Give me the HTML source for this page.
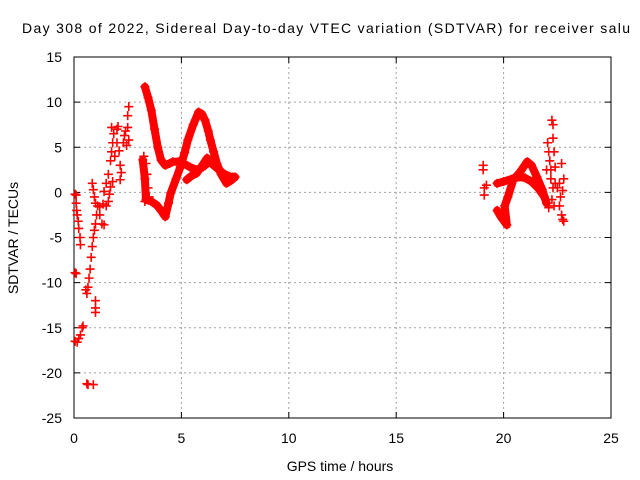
<!DOCTYPE html>
<html><head><meta charset="utf-8"><style>
body{margin:0;background:#fff}
svg{display:block;font-family:"Liberation Sans",Arial,sans-serif}
</style></head><body>
<svg id="chart" width="640" height="480">
<rect width="640" height="480" fill="#fff"/>
<g id="grid"></g><g id="axes"></g><g id="data"></g>
<text x="326" y="33" font-size="14" text-anchor="middle" textLength="608">Day 308 of 2022, Sidereal Day-to-day VTEC variation (SDTVAR) for receiver salu</text>
<text x="340" y="471" font-size="14" text-anchor="middle">GPS time / hours</text>
<text x="18" y="238" font-size="14" text-anchor="middle" transform="rotate(-90 18 238)">SDTVAR / TECUs</text>
</svg>
<script>
const xTicks=[0,5,10,15,20,25];
const yTicks=[15,10,5,0,-5,-10,-15,-20,-25];
// continuous tracks: [time, value]
const trackA=[[3.3,11.7],[3.45,10.5],[3.6,9.1],[3.75,7],[3.9,5],[4.05,3.6],[4.25,3],[4.45,3.2],[4.6,3.4],[4.85,3.4],[5.1,3.2],[5.4,2.8],[5.7,2.5],[6.0,2.8],[6.3,3.4],[6.6,2.8],[6.95,2.1],[7.2,1.8],[7.4,1.7]];
const trackB=[[3.2,3.6],[3.3,1.5],[3.35,-0.8],[3.6,-1.0],[3.85,-1.4],[4.05,-2.0],[4.25,-2.7],[4.4,-1.2],[4.5,-0.1],[4.75,1.5],[4.95,2.8],[5.15,4.4],[5.3,5.8],[5.55,7.5],[5.8,8.9],[5.95,8.7],[6.1,8.0],[6.25,6.8],[6.35,5.8],[6.5,4.5],[6.65,3.2],[6.85,2.0],[7.1,1.0],[7.3,1.3],[7.5,1.7]];
const trackC=[[5.25,1.4],[5.45,1.8],[5.7,2.1],[5.95,2.9],[6.2,3.8],[6.4,3.4]];
const trackD=[[19.7,-2.0],[19.9,-2.8],[20.15,-3.6],[20.05,-1.5],[20.2,-0.5],[20.45,1.4],[20.75,2.2],[21.1,3.4],[21.3,3.0],[21.55,1.7],[21.8,0.3],[22.0,-1.2]];
const trackE=[[19.7,1.0],[20.0,1.2],[20.4,1.5],[20.75,1.7],[21.0,1.6],[21.3,1.2],[21.6,0.5],[21.9,-0.5]];
// scattered points: [time, value]
const scatter=[[0.05,-0.2],[0.1,-0.3],[0.1,-1.2],[0.12,-2],[0.15,-2.5],[0.2,-3.2],[0.22,-4],[0.28,-5],[0.3,-5.8],[0.05,-8.9],[0.1,-9],
[0.05,-16.5],[0.15,-16.6],[0.22,-16.2],[0.3,-15.8],[0.38,-15],[0.42,-14.8],[0.6,-21.2],[0.65,-21.3],[0.9,-21.3],
[0.55,-10.8],[0.6,-11.2],[0.65,-10.5],[0.7,-9.5],[0.75,-8.5],[0.8,-7.2],[0.85,-6],[0.9,-5],[0.95,-4.2],[1.0,-3.5],[1.05,-2.5],
[1.0,-12],[1.0,-12.8],[1.0,-13.3],[0.85,1],[0.9,0.3],[0.95,-0.5],[1.0,-1.2],[1.1,-1.5],[1.2,-1.6],[1.35,-1.3],[1.5,-1.5],[1.6,-1],[1.2,-2.5],[1.3,-3.5],[1.4,-3.6],
[1.4,0.1],[1.5,1],[1.6,2],[1.7,3.5],[1.75,4.5],[1.8,5.5],[1.75,7.2],[1.85,6.5],[1.9,4.0],[1.7,0.6],[1.8,1.2],[1.65,-0.2],
[2.0,7.0],[2.05,7.3],[2.0,5.5],[2.1,4.6],[2.15,3.0],[2.15,1.4],[2.2,2.2],[2.3,5.5],[2.35,6.3],[2.45,5.2],[2.55,9.5],[2.5,8.5],[2.55,5.8],[2.5,7.2],[2.4,6.8],
[3.25,4.0],[3.35,3.2],[3.4,2.0],[3.45,0.5],[3.5,-0.5],[3.3,-1.0],
[19.05,3.0],[19.05,2.5],[19.1,0.5],[19.1,-0.3],[19.2,0.8],
[22.05,5.5],[22.1,4.5],[22.15,3.5],[22.2,2.5],[22.25,8.0],[22.3,7.5],[22.3,6.0],[22.35,4.5],[22.2,1.5],[22.3,0.5],[22.25,-0.8],[22.35,-1.5],[22.4,2.8],[22.4,1.0],
[22.5,0.5],[22.6,1.0],[22.6,-1.5],[22.7,-2.5],[22.75,-3.0],[22.8,-3.2],[22.7,3.2],[22.8,1.5],[22.75,0.2],[22.65,-0.5],[21.95,-0.8],[22.1,-1.7],[22.0,2.5]];
const X0=74,X1=611,Y0=57,Y1=418;
const sx=t=>X0+(t-0)/25*(X1-X0);
const sy=v=>Y0+(15-v)/40*(Y1-Y0);
const NS="http://www.w3.org/2000/svg";
function mk(tag,attrs,parent){const e=document.createElementNS(NS,tag);for(const k in attrs)e.setAttribute(k,attrs[k]);parent.appendChild(e);return e;}
const grid=document.getElementById('grid'),axes=document.getElementById('axes'),data=document.getElementById('data');
xTicks.forEach(t=>{const x=sx(t);
 if(t>0&&t<25){const g=mk('line',{x1:x,x2:x,y1:Y0,y2:Y1,stroke:'#a0a0a0','stroke-dasharray':'2,3'},grid);
 
 }
 mk('line',{x1:x,x2:x,y1:Y1,y2:Y1-6,stroke:'#000'},axes);
 mk('line',{x1:x,x2:x,y1:Y0,y2:Y0+6,stroke:'#000'},axes);
 const l=mk('text',{x:x,y:443,'font-size':14,'text-anchor':'middle'},axes);l.textContent=t;
 
 
});
yTicks.forEach(v=>{const y=sy(v);
 if(v<15&&v>-25){const g=mk('line',{x1:X0,x2:X1,y1:y,y2:y,stroke:'#a0a0a0','stroke-dasharray':'2,3'},grid);
 
 }
 mk('line',{x1:X0,x2:X0+6,y1:y,y2:y,stroke:'#000'},axes);
 mk('line',{x1:X1,x2:X1-6,y1:y,y2:y,stroke:'#000'},axes);
 const l=mk('text',{x:62,y:y+5,'font-size':14,'text-anchor':'end'},axes);l.textContent=v;
 
 
});
const frame=mk('rect',{x:X0,y:Y0,width:X1-X0,height:Y1-Y0,fill:'none',stroke:'#000'},axes);


function plus(t,v){const x=sx(t),y=sy(v);
 const p=mk('path',{d:`M${x-4.5},${y}H${x+4.5}M${x},${y-4.5}V${y+4.5}`,stroke:'#f00','stroke-width':1.6},data);
 
 }
[trackA,trackB,trackC,trackD,trackE].forEach(tr=>{
 const pl=mk('polyline',{points:tr.map(p=>sx(p[0])+','+sy(p[1])).join(' '),fill:'none',stroke:'#f00','stroke-width':8,'stroke-linejoin':'round','stroke-linecap':'round'},data);
 
 
 tr.forEach(p=>plus(p[0],p[1]));
});
scatter.forEach(p=>plus(p[0],p[1]));
</script>
</body></html>
